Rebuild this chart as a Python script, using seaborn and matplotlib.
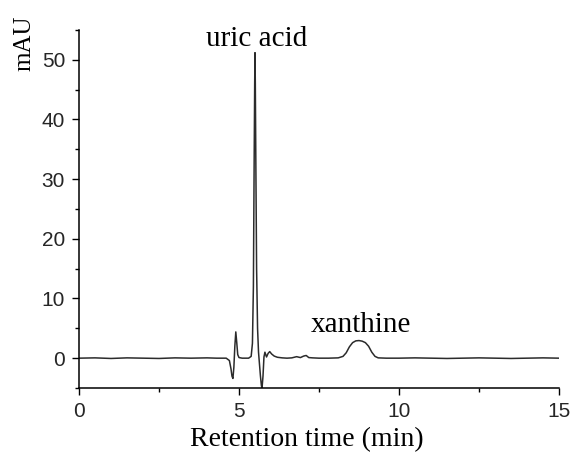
import numpy as np
import pandas as pd
import matplotlib
matplotlib.use("Agg")
import matplotlib.pyplot as plt
import seaborn as sns
from matplotlib.ticker import MultipleLocator

# Chromatogram points (time in min, signal in mAU)
time_min = [0.0, 0.5, 1.0, 1.5, 2.0, 2.5, 3.0, 3.5, 4.0, 4.3, 4.6,
            4.70, 4.75, 4.78, 4.81, 4.84, 4.87, 4.90, 4.93, 4.96, 5.00, 5.10,
            5.30, 5.38, 5.42, 5.45, 5.47, 5.49, 5.50, 5.51, 5.53, 5.55, 5.58,
            5.61, 5.64, 5.67, 5.70, 5.72, 5.75, 5.78, 5.81, 5.86, 5.91, 5.96,
            6.02, 6.10, 6.20, 6.35, 6.50, 6.65, 6.80, 6.92, 7.02, 7.10, 7.18,
            7.30, 7.50, 7.80, 8.10, 8.25, 8.35, 8.45, 8.55, 8.65, 8.75, 8.85,
            8.95, 9.05, 9.15, 9.25, 9.35, 9.60, 10.0, 10.5, 11.0, 11.5, 12.0,
            12.5, 13.0, 13.5, 14.0, 14.5, 15.0]
signal_mau = [0.0, 0.05, -0.05, 0.05, 0.0, -0.05, 0.05, 0.0, 0.05, 0.0, 0.0,
              -0.4, -1.8, -3.0, -3.4, -1.5, 2.0, 4.4, 2.6, 0.6, 0.1, 0.0,
              0.0, 0.3, 2.5, 12.0, 30.0, 46.0, 51.2, 46.0, 30.0, 15.0, 5.0,
              1.0, -1.0, -3.0, -4.6, -5.0, -3.0, 0.2, 1.0, 0.2, 0.8, 1.1,
              0.7, 0.35, 0.15, 0.05, 0.0, 0.05, 0.25, 0.1, 0.35, 0.45, 0.1,
              0.05, 0.0, 0.0, 0.05, 0.3, 0.9, 1.9, 2.6, 2.9, 2.95, 2.85,
              2.6, 2.0, 1.0, 0.3, 0.05, 0.0, 0.0, 0.05, 0.0, -0.05, 0.0,
              0.05, 0.0, -0.05, 0.0, 0.05, 0.0]

peak_labels = ["uric acid", "xanthine"]
peak_label_x = [5.56, 8.81]
peak_label_y = [52.3, 4.35]

x_ticks = [0, 5, 10, 15]
y_ticks = [0, 10, 20, 30, 40, 50]

df = pd.DataFrame({"time": time_min, "signal": signal_mau})

sns.set_theme(style="ticks")
plt.rcParams["font.family"] = ["Liberation Serif", "DejaVu Serif"]

fig = plt.figure(figsize=(5.71, 4.55), dpi=100)
ax = fig.add_axes([79 / 571, 1 - 388 / 455, 480 / 571, 358 / 455])

sns.lineplot(data=df, x="time", y="signal", ax=ax, color="#2b2b2b",
             linewidth=1.1, estimator=None, sort=False)

ax.set_xlim(0, 15)
ax.set_ylim(-5, 55)
ax.set_xticks(x_ticks)
ax.set_yticks(y_ticks)
ax.xaxis.set_minor_locator(MultipleLocator(2.5))
ax.yaxis.set_minor_locator(MultipleLocator(5))

for s in ["top", "right"]:
    ax.spines[s].set_visible(False)
for s in ["left", "bottom"]:
    ax.spines[s].set_color("black")
    ax.spines[s].set_linewidth(1.1)

ax.tick_params(axis="both", which="major", direction="out", length=5,
               width=1.0, color="black", pad=5, labelsize=15)
ax.tick_params(axis="both", which="minor", direction="out", length=3,
               width=1.0, color="black")
for lab in ax.get_xticklabels() + ax.get_yticklabels():
    lab.set_fontfamily(["Liberation Sans", "DejaVu Sans"])

ax.set_xlabel("Retention time (min)", fontsize=20, color="black")
ax.xaxis.set_label_coords(0.475, -0.11)
ax.set_ylabel("")
ax.text(-0.113, 0.964, "mAU", transform=ax.transAxes, rotation=90,
        ha="center", va="center", fontsize=18, color="black")

for lbl, lx, ly in zip(peak_labels, peak_label_x, peak_label_y):
    ax.text(lx, ly, lbl, ha="center", va="baseline", fontsize=21, color="black")

fig.savefig("out.png", dpi=100)
